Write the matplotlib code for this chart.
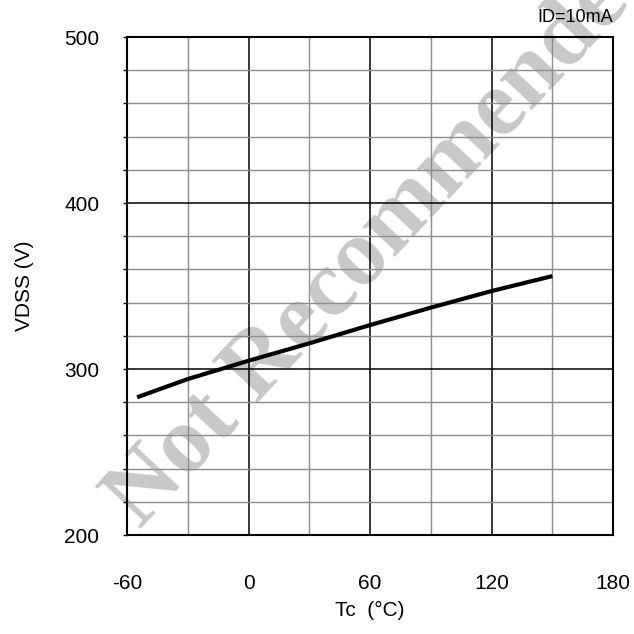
import numpy as np
import matplotlib
matplotlib.use("Agg")
import matplotlib.pyplot as plt
from matplotlib.ticker import MultipleLocator

# data
tc = [-55, -30, 0, 30, 60, 90, 120, 150]
vdss = [283, 294, 305, 315.5, 326.5, 337, 347, 356]

x_ticks = [-60, 0, 60, 120, 180]
y_ticks = [200, 300, 400, 500]

plt.rcParams['font.family'] = ['Liberation Sans', 'DejaVu Sans']
plt.rcParams['axes.unicode_minus'] = False

fig = plt.figure(figsize=(6.34, 6.34), dpi=100)
ax = fig.add_axes([0.2003, 0.156, 0.7667, 0.7856])

ax.set_xlim(-60, 180)
ax.set_ylim(200, 500)
ax.set_xticks(x_ticks)
ax.set_yticks(y_ticks)
ax.xaxis.set_minor_locator(MultipleLocator(30))
ax.yaxis.set_minor_locator(MultipleLocator(20))

ax.grid(which='minor', color='#8c8c8c', lw=1.0)
ax.grid(which='major', color='black', lw=1.1)
ax.set_axisbelow(True)

for s in ax.spines.values():
    s.set_linewidth(1.5)
    s.set_color('black')

ax.tick_params(axis='x', which='both', length=0, pad=28, labelsize=15)
ax.tick_params(axis='y', which='major', length=3, width=1, direction='out', pad=17, labelsize=15)
ax.tick_params(axis='y', which='minor', length=3, width=1, direction='out')

ax.plot(tc, vdss, color='black', lw=3, solid_capstyle='butt', zorder=3)

# watermark (under the grid)
ax.text(0.2208, 0.164, 'Not Recommended', transform=fig.transFigure,
        family='Liberation Serif', fontweight='bold', fontsize=68.4,
        color='#c8c8c8', rotation=47, rotation_mode='anchor',
        ha='left', va='baseline', zorder=0.2, clip_on=False)

ax.set_xlabel('Tc  (°C)', fontsize=15, labelpad=6)
ax.set_ylabel('VDSS (V)', fontsize=15, labelpad=22)
fig.text(0.967, 0.973, 'ID=10mA', ha='right', va='center', fontsize=13)

fig.savefig('out.png', dpi=100)
